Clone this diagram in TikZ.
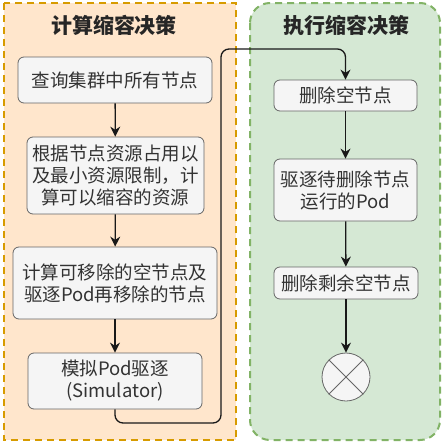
\documentclass[tikz,border=0pt]{standalone}
\usepackage{fontspec}
\newfontfamily\cjk{Noto Sans CJK SC}
\usetikzlibrary{positioning, arrows.meta}
\definecolor{calcFill}{HTML}{FFE6CC}
\definecolor{calcLine}{HTML}{D79B00}
\definecolor{execFill}{HTML}{D5E8D4}
\definecolor{execLine}{HTML}{82B366}
\definecolor{boxFill}{HTML}{F5F5F5}
\definecolor{boxLine}{HTML}{666666}
\definecolor{boxText}{HTML}{333333}

\begin{document}
\begin{tikzpicture}[x=1pt, y=-1pt,
  stepbox/.style={draw=boxLine, fill=boxFill, rounded corners=6pt, line width=0.8pt,
    text=boxText, font=\cjk\fontsize{18.5}{22}\selectfont, align=center, inner sep=0pt},
  lane/.style={line width=2pt, dash pattern=on 7pt off 5pt},
  lanetitle/.style={font=\cjk\bfseries\fontsize{21}{24}\selectfont, text=black!85},
  flow/.style={->, line width=1.3pt, black!90},
  >={Stealth[length=10pt, width=10pt]}
]
  \useasboundingbox (0,0) rectangle (442,442);

  % --- Lanes ---
  \draw[lane, draw=calcLine, fill=calcFill] (4,3) rectangle (236,440);
  \draw[lane, draw=execLine, fill=execFill, rounded corners=20pt] (250,3) rectangle (440,440);
  \node[lanetitle] (calcT) at (114,25) {计算缩容决策};
  \node[lanetitle] (execT) at (346,25) {执行缩容决策};

  % --- Left lane: compute decision ---
  \node[stepbox, minimum width=194pt, minimum height=46pt] (query) at (115,80) {查询集群中所有节点};
  \node[stepbox, minimum width=177pt, minimum height=77pt] (res) at (115.5,175.5)
    {根据节点资源占用以\\及最小资源限制，计\\算可以缩容的资源};
  \node[stepbox, minimum width=204pt, minimum height=72pt] (rm) at (115,283)
    {计算可移除的空节点及\\驱逐Pod再移除的节点};
  \node[stepbox, minimum width=174pt, minimum height=56pt] (sim) at (115,381)
    {模拟Pod驱逐\\(Simulator)};

  % --- Right lane: execute decision ---
  \node[stepbox, minimum width=143pt, minimum height=31pt] (del1) at (345.5,95.5) {删除空节点};
  \node[stepbox, minimum width=143pt, minimum height=62pt] (evict) at (345.5,190)
    {驱逐待删除节点\\运行的Pod};
  \node[stepbox, minimum width=144pt, minimum height=32pt] (del2) at (346,283) {删除剩余空节点};
  \node[circle, draw=boxLine, fill=boxFill, line width=0.8pt, minimum size=48pt, inner sep=0pt] (stop) at (346,377) {};
  \draw[boxLine, line width=0.8pt] (stop.north east) -- (stop.south west);
  \draw[boxLine, line width=0.8pt] (stop.north west) -- (stop.south east);

  % --- Connectors ---
  \draw[flow] (query) -- (res);
  \draw[flow] (res) -- (rm);
  \draw[flow] (rm) -- (sim);
  \coordinate (jumpLo) at (221,423);
  \coordinate (jumpHi) at (221,49);
  \draw[flow, rounded corners=8pt] (sim.south) |- (jumpLo) -- (jumpHi) -| (del1.north);
  \draw[flow] (del1) -- (evict);
  \draw[flow] (evict) -- (del2);
  \draw[flow] (del2) -- (stop);
\end{tikzpicture}
\end{document}
